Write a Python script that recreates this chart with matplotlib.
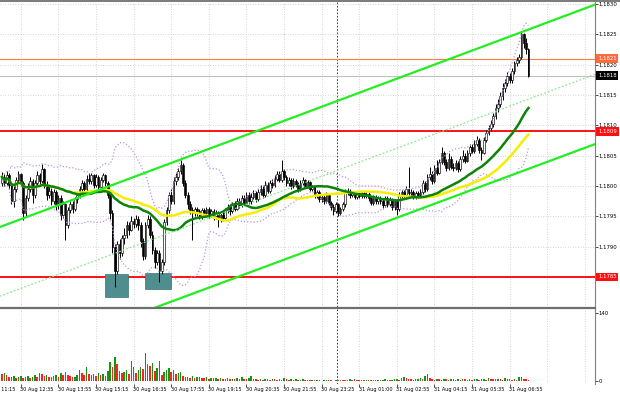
import numpy as np
import pandas as pd
import matplotlib
matplotlib.use("Agg")
import matplotlib.pyplot as plt
from matplotlib.patches import Rectangle
from matplotlib.transforms import blended_transform_factory

plt.rcParams['font.family'] = ['DejaVu Sans']

# ---------------- data (EURUSD M5, prices in pips from 1.1800) ----------------
BASE = 1.1800
open0_pips = 0.5
close_pips = [
    1.5, 0.5, 1.8, 0.2, -2.5, -0.5, 1.0, 2.0, 0.5, -4.5,
    -2.0, -0.5, 0.8, -1.5, 0.5, 1.8, 0.8, 2.8, 0.2, -1.5,
    -0.8, -2.5, -1.0, -3.2, -2.0, -4.8, -3.0, -6.5, -4.0, -3.0,
    -3.8, -2.2, -1.5, -0.5, 0.5, -0.5, 1.2, 0.8, 1.8, 0.2,
    1.5, -0.2, 1.0, 1.8, 0.5, -1.5, -4.5, -10.0, -14.0, -9.5,
    -11.0, -8.5, -8.0, -6.5, -7.2, -5.8, -6.2, -5.5, -6.5, -9.0,
    -11.5, -6.5, -5.5, -8.0, -10.5, -12.5, -11.0, -14.0, -12.5, -6.0,
    -4.0, -1.5, -2.5, 0.8, 1.5, 2.5, 3.5, 0.5, -1.5, -3.0,
    -4.0, -4.5, -3.8, -4.2, -5.0, -4.0, -4.5, -3.8, -4.6, -4.2,
    -5.0, -4.5, -5.5, -4.8, -5.2, -4.0, -3.5, -4.2, -3.0, -3.8,
    -2.5, -3.2, -2.0, -2.8, -1.5, -2.5, -1.8, -1.2, -2.2, -1.0,
    -0.5, -1.5, 0.2, -0.8, 0.5, 0.2, 1.2, 2.0, 1.0, 2.5,
    1.5, 0.5, 1.0, 0.0, 0.8, 0.2, -0.5, 0.5, 1.0, 0.0,
    0.6, -0.5, -0.2, -1.5, -1.0, -2.2, -1.8, -2.5, -1.5, -2.8,
    -3.5, -4.2, -3.0, -4.5, -3.8, -3.0, -1.0, -0.8, -1.5, -1.2,
    -1.8, -1.2, -1.6, -1.2, -1.7, -1.3, -2.0, -2.8, -1.8, -2.5,
    -2.0, -2.5, -3.2, -2.0, -3.0, -2.2, -3.5, -2.5, -3.8, -1.5,
    -1.0, -1.5, -0.5, -1.2, -1.0, -1.8, -1.2, -1.5, -1.0, 0.5,
    -0.5, 1.5, 2.0, 0.8, 3.0, 2.2, 4.0, 5.5, 4.0, 3.0,
    4.5, 3.2, 3.0, 3.8, 2.8, 4.5, 5.0, 4.2, 5.5, 6.5,
    5.8, 7.0, 7.5, 6.0, 5.5, 7.5, 8.8, 9.5, 10.2, 11.5,
    12.8, 13.5, 14.8, 16.2, 17.0, 18.2, 17.5, 19.0, 20.2, 20.8,
    21.3, 25.0, 23.5, 22.5, 18.2,
]
high_pips = [
    2.3, 2.0, 2.5, 2.2, 0.5, 0.0, 1.5, 2.5, 2.2, 0.8,
    -1.5, 0.5, 1.5, 1.2, 1.0, 2.5, 2.2, 3.6, 3.0, 0.8,
    0.0, -0.3, -0.5, -0.6, -1.5, -1.5, -2.5, -2.8, -3.5, -2.5,
    -2.5, -1.8, -1.0, 0.0, 1.0, 0.8, 1.8, 2.1, 2.2, 2.0,
    1.9, 1.8, 1.5, 2.2, 2.0, 0.8, -1.0, -4.0, -9.5, -9.0,
    -8.8, -8.0, -7.0, -5.8, -6.0, -5.0, -5.2, -4.8, -5.0, -6.0,
    -8.5, -6.0, -4.8, -5.0, -7.5, -10.0, -10.5, -10.5, -12.0, -5.5,
    -3.5, -1.0, -0.5, 1.5, 2.2, 3.0, 4.3, 3.8, 1.0, -1.0,
    -2.5, -3.5, -3.4, -3.5, -3.8, -3.6, -3.6, -3.4, -3.5, -3.8,
    -3.8, -4.0, -4.2, -4.5, -4.3, -3.6, -3.0, -3.0, -2.6, -2.5,
    -2.0, -2.0, -1.5, -1.5, -1.0, -1.0, -1.2, -0.6, -0.8, -0.5,
    0.2, 0.0, 0.8, 0.6, 1.0, 1.2, 1.8, 2.5, 2.4, 4.3,
    2.8, 1.8, 1.5, 1.3, 1.3, 1.2, 0.6, 1.0, 1.4, 1.2,
    1.0, 0.8, 0.2, 0.0, -0.6, -0.6, -1.3, -1.5, -1.0, -1.2,
    -2.5, -3.0, -2.6, -2.8, -3.4, -2.6, -0.5, -0.3, -0.5, -0.9,
    -1.0, -0.9, -0.9, -0.9, -0.9, -1.0, -1.0, -1.7, -1.5, -1.5,
    -1.6, -1.7, -2.2, -1.7, -1.7, -1.8, -1.9, -2.1, -2.2, -1.0,
    -0.6, -0.7, 0.0, 3.1, -0.5, -0.6, -0.8, -0.9, -0.5, 1.0,
    0.9, 2.0, 3.2, 2.4, 3.5, 4.3, 4.5, 6.4, 5.8, 4.4,
    5.4, 4.9, 3.8, 4.3, 4.1, 5.0, 6.0, 5.4, 6.0, 7.0,
    7.0, 7.6, 8.2, 7.9, 6.4, 8.0, 9.2, 10.0, 10.8, 12.0,
    13.5, 14.4, 15.5, 17.0, 17.6, 18.8, 18.6, 19.5, 20.6, 21.3,
    21.8, 25.6, 25.2, 24.4, 22.8,
]
low_pips = [
    0.0, 0.0, 0.2, -0.5, -3.0, -3.5, -1.0, 0.5, 0.0, -5.6,
    -5.0, -2.5, -1.0, -2.8, -2.0, 0.0, 0.2, 0.5, -0.3, -2.3,
    -2.0, -3.2, -3.0, -4.0, -3.8, -5.6, -5.2, -8.9, -7.0, -4.5,
    -4.5, -4.2, -2.8, -2.0, -1.0, -1.2, -0.8, 0.3, 0.4, -0.3,
    -0.2, -0.8, -0.5, 0.6, 0.0, -2.0, -5.5, -11.0, -16.6, -14.5,
    -12.0, -11.5, -9.5, -8.5, -8.0, -7.5, -7.0, -6.8, -7.2, -10.0,
    -12.2, -12.0, -7.0, -8.5, -11.2, -13.5, -13.0, -15.8, -14.5, -13.0,
    -6.5, -4.5, -3.0, -3.0, 0.2, 1.0, 2.0, 0.0, -2.0, -3.8,
    -4.6, -8.9, -5.0, -5.0, -5.5, -5.4, -5.0, -5.0, -5.2, -5.0,
    -5.6, -5.5, -6.8, -6.0, -5.8, -5.5, -4.4, -4.8, -4.5, -4.2,
    -4.0, -3.6, -3.5, -3.2, -3.0, -3.0, -2.9, -2.2, -2.6, -2.5,
    -1.5, -2.0, -1.8, -1.2, -1.2, -0.3, -0.2, 0.8, 0.6, 0.6,
    1.0, 0.0, 0.0, -0.5, -0.4, -0.2, -1.0, -0.8, 0.2, -0.4,
    -0.3, -0.8, -0.9, -2.0, -2.0, -2.6, -2.6, -3.0, -2.8, -3.2,
    -4.0, -4.8, -4.5, -4.9, -4.8, -4.2, -3.4, -1.5, -1.9, -1.8,
    -2.1, -2.1, -2.0, -1.9, -2.0, -2.0, -2.4, -3.2, -3.1, -2.9,
    -2.9, -2.9, -3.6, -3.5, -3.4, -3.3, -4.0, -3.9, -4.8, -4.1,
    -1.9, -1.9, -1.9, -1.6, -1.6, -2.2, -2.2, -2.0, -1.9, -1.3,
    -1.0, -0.8, 1.0, 0.3, 0.5, 1.8, 1.9, 3.6, 3.4, 2.5,
    2.6, 2.8, 2.4, 2.6, 2.3, 2.5, 4.0, 3.8, 3.9, 5.0,
    5.4, 5.5, 6.6, 5.5, 4.3, 5.2, 7.2, 8.4, 9.0, 9.8,
    11.0, 12.2, 13.0, 14.2, 15.5, 16.5, 17.0, 17.0, 18.5, 19.8,
    20.3, 21.0, 22.8, 21.8, 18.0,
]
volume = [
    14, 16, 12, 8, 9, 10, 6, 8, 11, 7,
    9, 10, 6, 8, 12, 9, 16, 14, 11, 12,
    9, 8, 10, 12, 9, 16, 13, 18, 12, 10,
    8, 9, 13, 22, 17, 13, 29, 15, 12, 14,
    11, 16, 12, 14, 10, 20, 39, 28, 49, 35,
    20, 16, 18, 22, 14, 41, 29, 17, 22, 29,
    24, 58, 34, 30, 38, 20, 26, 42, 12, 18,
    22, 27, 19, 22, 14, 17, 18, 10, 8, 9,
    7, 10, 6, 8, 9, 7, 6, 8, 5, 7,
    6, 7, 5, 6, 4, 5, 6, 4, 5, 5,
    6, 4, 9, 5, 4, 6, 10, 5, 4, 3,
    4, 3, 5, 4, 3, 5, 4, 3, 4, 3,
    7, 4, 3, 5, 3, 4, 2, 3, 4, 2,
    3, 2, 3, 2, 3, 2, 1, 2, 3, 2,
    2, 1, 2, 2, 3, 2, 2, 3, 4, 3,
    5, 3, 2, 2, 3, 2, 3, 2, 3, 2,
    3, 2, 3, 4, 3, 2, 3, 4, 5, 3,
    6, 9, 7, 5, 4, 3, 4, 5, 7, 4,
    10, 14, 6, 4, 3, 5, 4, 3, 5, 4,
    3, 5, 4, 3, 4, 3, 5, 4, 3, 4,
    3, 4, 5, 3, 4, 5, 3, 7, 5, 4,
    4, 5, 4, 3, 7, 5, 4, 3, 4, 3,
    8, 9, 5, 4, 3,
]
time_labels = ['30 Aug 11:15', '30 Aug 12:35', '30 Aug 13:55', '30 Aug 15:15',
               '30 Aug 16:35', '30 Aug 17:55', '30 Aug 19:15', '30 Aug 20:35',
               '30 Aug 21:55', '30 Aug 23:25', '31 Aug 01:00', '31 Aug 02:55',
               '31 Aug 04:15', '31 Aug 05:35', '31 Aug 06:55']
label_bars = [-8, 8, 24, 40, 56, 72, 88, 104, 120, 136, 152, 168, 184, 200, 216]
price_ticks = [1.1790, 1.1795, 1.1800, 1.1805, 1.1810, 1.1815, 1.1820, 1.1825, 1.1830]
level_resist = 1.1821
level_upper = 1.1809
level_lower = 1.1785

# ---------------- derived series ----------------
close = BASE + np.array(close_pips) / 1e4
high = BASE + np.array(high_pips) / 1e4
low = BASE + np.array(low_pips) / 1e4
opens = np.r_[BASE + open0_pips / 1e4, close[:-1]]
idx = np.arange(len(close))
vol = np.array(volume)

s = pd.Series(close)
ma_fast = s.rolling(30, min_periods=1).mean()
ma_slow = s.rolling(50, min_periods=1).mean()
bb_mid = s.rolling(20, min_periods=1).mean()
bb_sd = s.rolling(20, min_periods=1).std(ddof=0)

# ---------------- figure ----------------
W, H = 620, 397
fig = plt.figure(figsize=(6.2, 3.97), dpi=100)
fig.patch.set_facecolor('white')
ax = fig.add_axes([0, 1 - 307 / H, 595 / W, 305 / H])
axv = fig.add_axes([0, 1 - 384 / H, 595 / W, 75 / H])

XMIN, XMAX = -0.85, 252.3
ax.set_xlim(XMIN, XMAX)
ax.set_ylim(1.178005, 1.183033)
axv.set_xlim(XMIN, XMAX)
axv.set_ylim(-6.2, 148.2)

GRID = '#c8c8c8'
grid_x = np.arange(8, 253, 16)
for a in (ax, axv):
    for gx in grid_x:
        a.axvline(gx, color=GRID, lw=0.6, ls=(0, (1, 2)), zorder=0)
    a.axvline(142.6, color='#202020', lw=0.6, ls=(0, (2, 2)), zorder=1)
for p in price_ticks + [1.1785]:
    ax.axhline(p, color=GRID, lw=0.6, ls=(0, (1, 2)), zorder=0)

# horizontal levels
ax.axhline(level_resist, color='#ff7f3f', lw=0.8, zorder=2)
ax.axhline(close[-1], color='#c0c0c0', lw=0.8, zorder=1)
ax.axhline(level_upper, color='#ff1010', lw=1.4, zorder=2)
ax.axhline(level_lower, color='#ff1010', lw=1.4, zorder=2)

# marked lows
for (x0, x1, p0, p1) in [(43.8, 53.6, 1.17817, 1.17855), (60.9, 71.9, 1.17830, 1.17857)]:
    ax.add_patch(Rectangle((x0, p0), x1 - x0, p1 - p0, facecolor='#4f8e8e',
                           edgecolor='#3c7474', lw=0.5, zorder=2.5))

# candles
up = close >= opens
body_lo = np.minimum(opens, close)
body_h = np.maximum(np.abs(close - opens), 0.000015)
ax.vlines(idx, low, high, color='black', lw=0.7, zorder=3)
ax.bar(idx[up], body_h[up], bottom=body_lo[up], width=0.72, facecolor='white',
       edgecolor='black', lw=0.45, zorder=4)
ax.bar(idx[~up], body_h[~up], bottom=body_lo[~up], width=0.72, facecolor='black',
       edgecolor='black', lw=0.45, zorder=4)

# indicators
BB = '#bf96d4'
ax.plot(idx, bb_mid + 2 * bb_sd, color=BB, lw=0.9, ls=(0, (1, 1.6)), zorder=5)
ax.plot(idx, bb_mid - 2 * bb_sd, color=BB, lw=0.9, ls=(0, (1, 1.6)), zorder=5)
ax.plot(idx, ma_slow, color='#f5ee00', lw=1.8, zorder=5)
ax.plot(idx, ma_fast, color='#0b840b', lw=1.8, zorder=5.5)

# channel lines (bar index, price)
ch_x = np.array([-1, 262])
ax.plot(ch_x, BASE + np.array([-6.78, 31.3]) / 1e4, color='#22ee22', lw=1.6, zorder=6)
ax.plot(ch_x, BASE + np.array([-29.58, 8.3]) / 1e4, color='#22ee22', lw=1.6, zorder=6)
ax.plot(ch_x, BASE + np.array([-18.18, 19.8]) / 1e4, color='#8ee88e', lw=0.9,
        ls=(0, (1.5, 1.5)), zorder=6)

# frames
for a in (ax, axv):
    for side in ('left', 'bottom', 'top'):
        a.spines[side].set_visible(False)
    a.spines['right'].set_color('#808080')
    a.spines['right'].set_linewidth(0.8)
fig.add_artist(plt.Line2D([0, 1], [1 - 1.2 / H, 1 - 1.2 / H], color='#707070', lw=1.3))
fig.add_artist(plt.Line2D([0, 595 / W], [1 - 308 / H, 1 - 308 / H], color='#6e6e6e', lw=1.6))

# price axis
ax.set_xticks([])
ax.yaxis.tick_right()
ax.set_yticks(price_ticks)
ax.set_yticklabels([f'{p:.4f}' for p in price_ticks])
ax.tick_params(axis='y', length=2, width=0.5, pad=0.8, labelsize=3.9, colors='black')

tr = blended_transform_factory(ax.transAxes, ax.transData)
for val, txt, fc in [(level_resist, f'{level_resist:.4f}', '#ff6a3a'),
                     (close[-1], f'{close[-1]:.4f}', 'black'),
                     (level_upper, f'{level_upper:.4f}', '#ff1010'),
                     (level_lower, f'{level_lower:.4f}', '#ff1010')]:
    ax.text(1.005, val, txt, transform=tr, ha='left', va='center', fontsize=3.9,
            color='white', clip_on=False, zorder=10,
            bbox=dict(boxstyle='square,pad=0.35', fc=fc, ec='none'))

# volumes
prev = np.r_[vol[0], vol[:-1]]
vcol = np.where(vol > prev, '#149614', '#ff2020')
axv.bar(idx, vol, width=0.65, color=vcol, zorder=3)
axv.yaxis.tick_right()
axv.set_yticks([0, 140])
axv.set_yticklabels(['0', '140'])
axv.tick_params(axis='y', length=2, width=0.5, pad=0.8, labelsize=3.9)
axv.set_xticks(label_bars[1:])
axv.set_xticklabels([])
axv.tick_params(axis='x', length=2, width=0.5)

trx = blended_transform_factory(axv.transData, axv.transAxes)
for b, lab in zip(label_bars, time_labels):
    axv.text(b - 0.3, -0.045, lab, transform=trx, ha='left', va='top', fontsize=3.6,
             color='black', clip_on=False)

fig.savefig('out.png', dpi=100, facecolor='white')
